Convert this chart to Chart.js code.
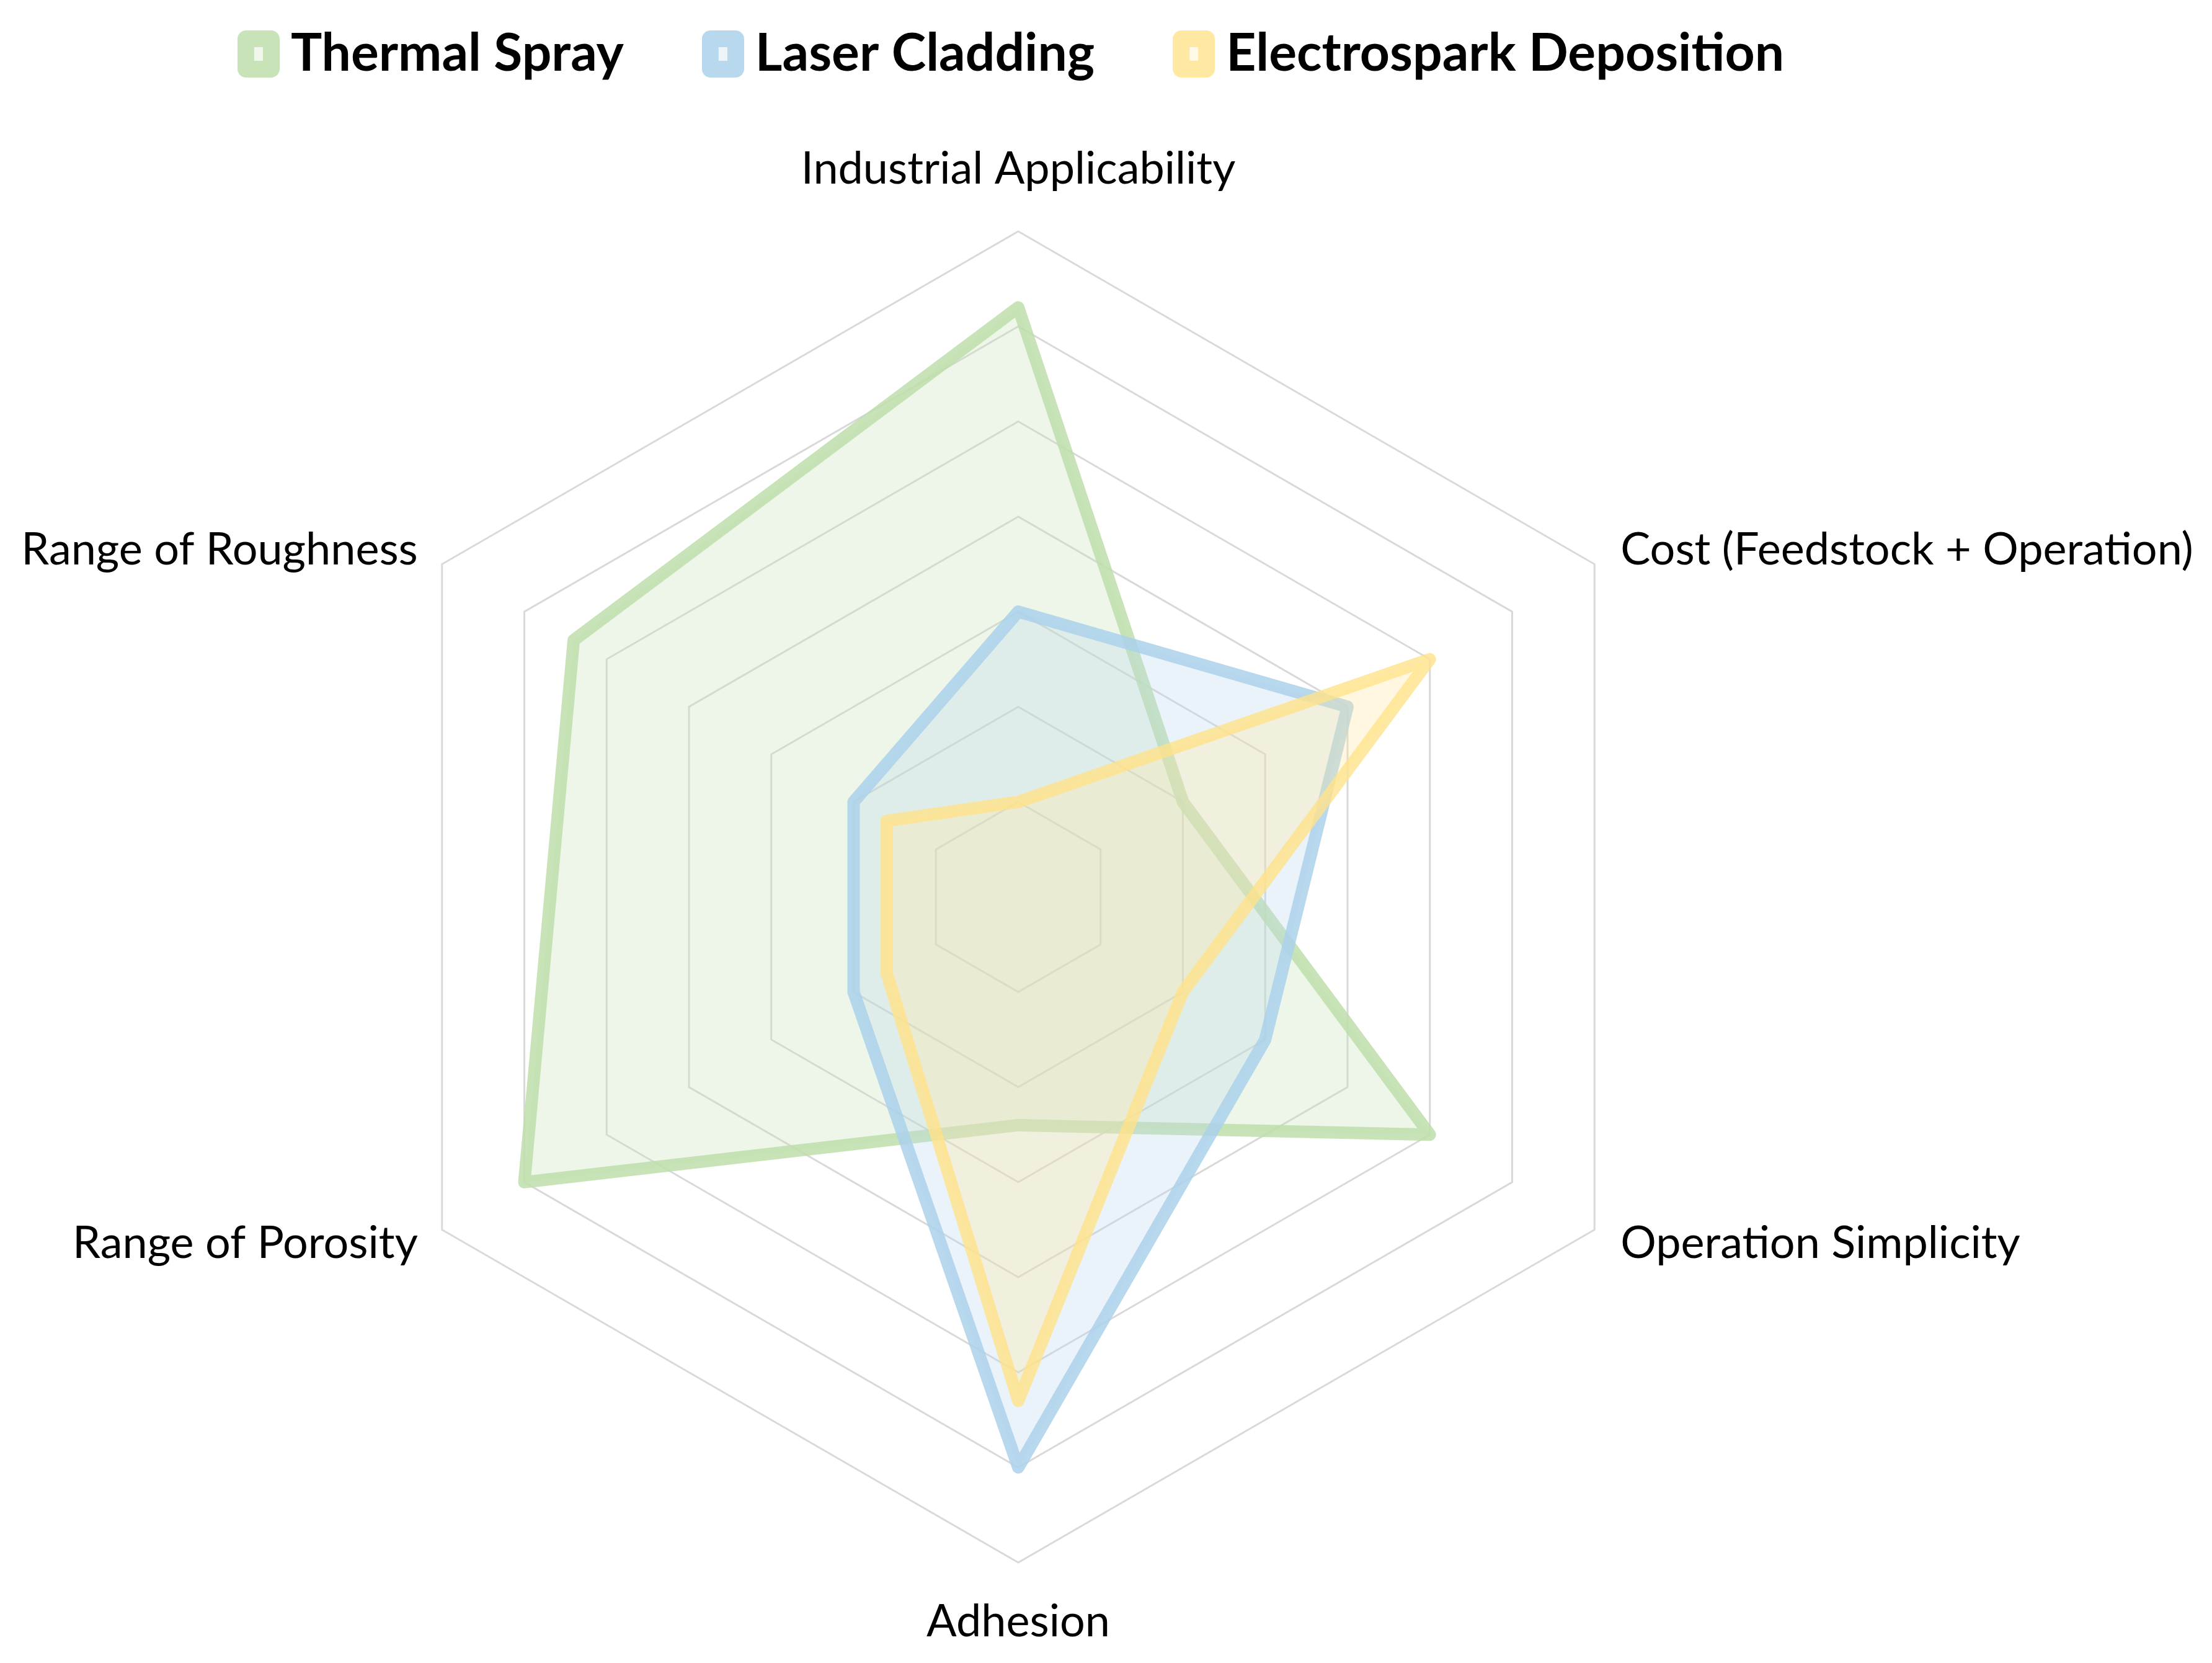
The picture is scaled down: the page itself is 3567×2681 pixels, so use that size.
<!DOCTYPE html>
<html>
<head>
<meta charset="utf-8">
<script src="https://cdn.jsdelivr.net/npm/chart.js@4/dist/chart.umd.min.js"></script>
<style>
  html, body { margin: 0; padding: 0; background: #ffffff; }
  #wrap { width: 3567px; height: 2681px; }
</style>
</head>
<body>
<div id="wrap"><canvas id="radarChart" width="3567" height="2681"></canvas></div>
<script>
// axis categories, clockwise from the top
var categories = ['Industrial Applicability', 'Cost (Feedstock + Operation)', 'Operation Simplicity',
                  'Adhesion', 'Range of Porosity', 'Range of Roughness'];

var seriesNames = ['Thermal Spray', 'Laser Cladding', 'Electrospark Deposition'];

var thermalSpray = [6.2, 2, 5, 2.4, 6, 5.4];
var laserCladding = [3, 4, 3, 6, 2, 2];
var electrospark = [1, 5, 2, 5.3, 1.6, 1.6];

var scaleTicks = [0, 1, 2, 3, 4, 5, 6, 7];

var lineColors = ['rgba(190, 222, 172, 0.85)', 'rgba(172, 209, 235, 0.85)', 'rgba(255, 226, 138, 0.8)'];
var fillColors = ['rgba(197, 224, 180, 0.3)', 'rgba(189, 215, 238, 0.3)', 'rgba(255, 230, 153, 0.3)'];

Chart.defaults.font.family = 'Lato, "Open Sans", sans-serif';
Chart.defaults.color = '#000000';

var ctx = document.getElementById('radarChart').getContext('2d');

function makeSet(i, values) {
    return {
        label: seriesNames[i],
        data: values,
        borderColor: lineColors[i],
        backgroundColor: fillColors[i],
        borderWidth: 20,
        borderJoinStyle: 'round',
        fill: true,
        pointRadius: 0,
        pointHoverRadius: 0,
        order: 3 - i
    };
}

// legend key: thick rounded square with a small light centre
function legendMarker(color) {
    var cv = document.createElement('canvas');
    cv.width = 68;
    cv.height = 76;
    var g = cv.getContext('2d');
    g.fillStyle = color;
    g.beginPath();
    g.roundRect(0, 0, 68, 76, 14);
    g.fill();
    g.fillStyle = 'rgba(255,255,255,0.75)';
    g.fillRect(27, 27, 14, 22);
    return cv;
}

// axis names drawn next to the outer ring vertices (Excel-like placement)
const axisNames = {
    id: 'axisNames',
    afterDraw(chart) {
        const scale = chart.scales.r;
        const c = chart.ctx;
        c.save();
        c.font = '72px Lato, "Open Sans", sans-serif';
        c.fillStyle = '#000000';
        c.textBaseline = 'middle';
        scale.getLabels().forEach(function (name, i) {
            const p = scale.getPointPosition(i, scale.drawingArea);
            let x = p.x, y = p.y;
            if (i === 0) { c.textAlign = 'center'; y -= 100; }
            else if (i === 3) { c.textAlign = 'center'; y += 96; }
            else if (i < 3) { c.textAlign = 'left'; x += 42; y += (i === 1 ? -23 : 22); }
            else { c.textAlign = 'right'; x -= 39; y += (i === 5 ? -23 : 22); }
            c.fillText(name, x, y);
        });
        c.restore();
    }
};

const radar = new Chart(ctx, {
    type: 'radar',
    data: {
        labels: categories,
        datasets: [
            makeSet(0, thermalSpray),
            makeSet(1, laserCladding),
            makeSet(2, electrospark)
        ]
    },
    options: {
        responsive: false,
        animation: false,
        layout: {
            padding: { top: -105, bottom: 161, left: 30, right: 313 }
        },
        plugins: {
            tooltip: { enabled: false },
            // empty title used only as a spacer under the legend
            title: {
                display: true,
                text: '',
                weight: 500,
                font: { size: 1 },
                padding: { top: 0, bottom: 232 }
            },
            legend: {
                position: 'top',
                labels: {
                    font: { size: 84, weight: 'bold' },
                    color: '#000000',
                    usePointStyle: true,
                    pointStyleWidth: 20,
                    boxHeight: 48,
                    padding: 150,
                    generateLabels: function (chart) {
                        return chart.data.datasets.map(function (ds, i) {
                            return {
                                text: ds.label,
                                pointStyle: legendMarker(lineColors[i]),
                                fillStyle: lineColors[i],
                                strokeStyle: lineColors[i],
                                lineWidth: 0,
                                hidden: false,
                                datasetIndex: i
                            };
                        });
                    }
                }
            }
        },
        scales: {
            r: {
                min: scaleTicks[0],
                max: scaleTicks[scaleTicks.length - 1],
                ticks: { display: false, stepSize: 1 },
                grid: { color: '#d9d9d9', lineWidth: 3 },
                angleLines: { display: false },
                pointLabels: { display: false }
            }
        }
    },
    plugins: [axisNames]
});
</script>
</body>
</html>
